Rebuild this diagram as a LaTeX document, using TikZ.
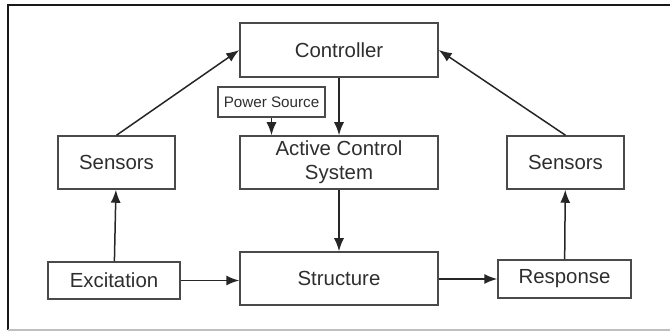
\documentclass[tikz,border=0pt]{standalone}
\usepackage{fontspec}
\setmainfont{Liberation Sans}
\usetikzlibrary{arrows.meta}
\definecolor{boxline}{HTML}{4A4A4A}
\definecolor{boxtext}{HTML}{2E2E2E}
\begin{document}
\begin{tikzpicture}[x=0.5pt, y=-0.5pt,
  block/.style={rectangle, draw=boxline, text=boxtext, line width=0.75pt, inner sep=0pt, align=center, font=\fontsize{10.2}{12}\selectfont},
  small block/.style={block, font=\fontsize{7.6}{9}\selectfont},
  flow/.style={-{Latex[length=6.5pt, width=5pt]}, line width=0.75pt, color=black!85}]
\useasboundingbox (0,0) rectangle (670,331);
\draw[line width=1.4pt, color=black!90] (8,330) -- (8,5) -- (670,5);
\draw[line width=0.6pt, color=black!25] (8,330) -- (670,330);

\node[block, minimum width=99pt, minimum height=27pt] (controller) at (339,50) {Controller};
\node[small block, minimum width=53.5pt, minimum height=15pt] (power) at (271.5,102) {Power Source};
\node[block, minimum width=99pt, minimum height=26.5pt] (active) at (339,162.5) {Active Control\\System};
\node[block, minimum width=58.5pt, minimum height=26.5pt] (sensors left) at (116.5,162.5) {Sensors};
\node[block, minimum width=58.5pt, minimum height=26.5pt] (sensors right) at (565.5,162.5) {Sensors};
\node[block, minimum width=66pt, minimum height=18.5pt] (excitation) at (114,280.5) {Excitation};
\node[block, minimum width=99pt, minimum height=26.5pt] (structure) at (339,278.5) {Structure};
\node[block, minimum width=66.5pt, minimum height=19pt] (response) at (564.5,279) {Response};

\draw[flow] (sensors left.north) -- (controller.west);
\draw[flow] (sensors right.north) -- (controller.east);
\draw[flow] (controller) -- (active);
\draw[flow] (power.south) -- (power.south |- active.north);
\draw[flow] (active) -- (structure);
\draw[flow] (excitation) -- (sensors left);
\draw[flow] (excitation.east) -- (excitation.east -| structure.west);
\draw[flow] (structure.east |- response.west) -- (response.west);
\draw[flow] (response) -- (sensors right);
\end{tikzpicture}
\end{document}
